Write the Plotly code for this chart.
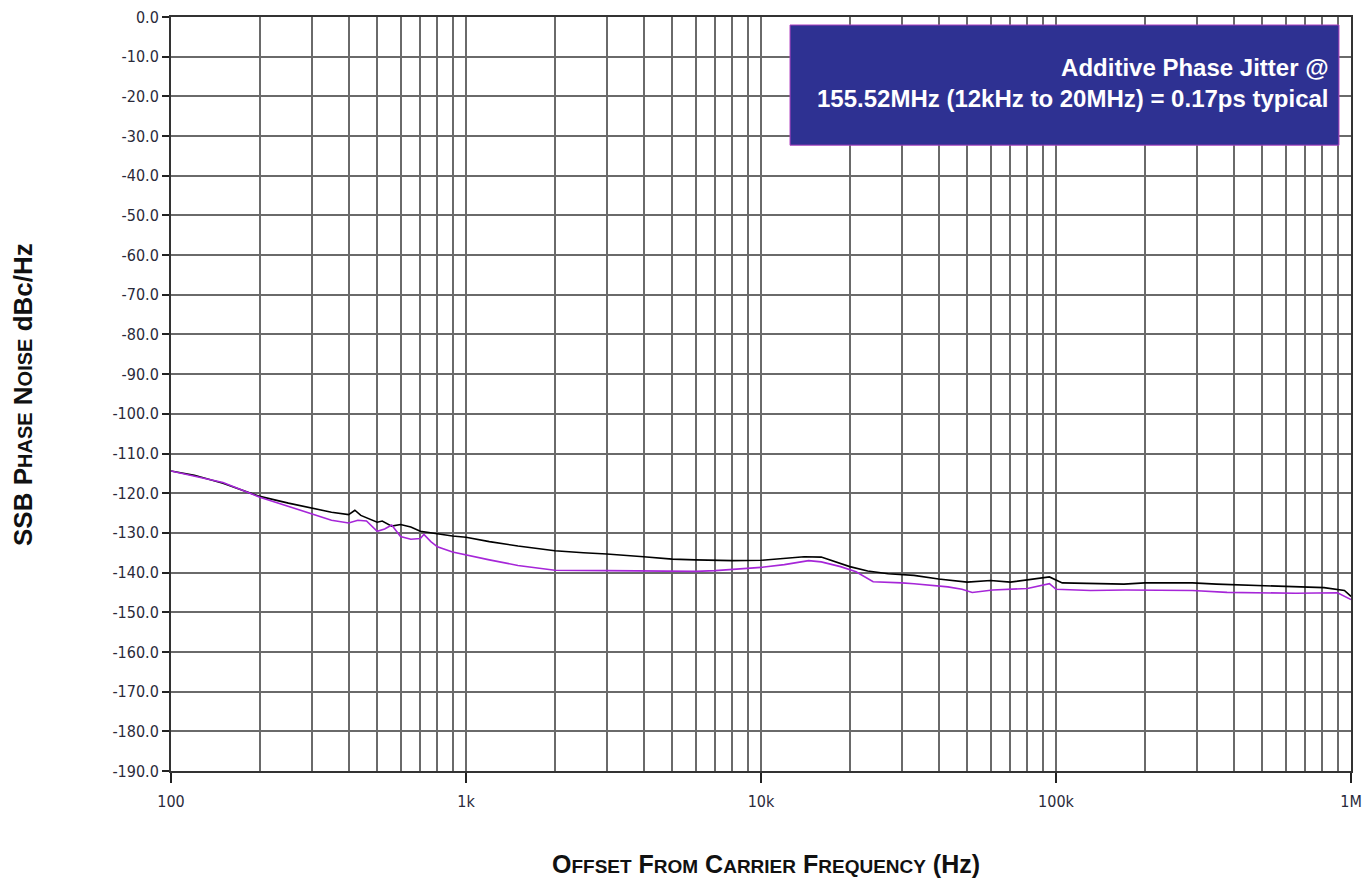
import plotly.graph_objects as go

# ---- data ----
freq_black = [100, 120, 150, 200, 250, 300, 350, 400, 420, 440, 500, 520, 560, 600, 650, 700, 800, 900,
              1000, 1200, 1500, 2000, 2500, 3000, 4000, 5000, 6000, 7000, 8000, 10000, 12000, 14000,
              16000, 18000, 20000, 23000, 27000, 33000, 40000, 50000, 60000, 70000, 80000, 95000,
              105000, 130000, 170000, 200000, 290000, 350000, 480000, 600000, 810000, 950000, 1000000]
noise_black = [-114.4, -115.5, -117.5, -120.8, -122.5, -123.7, -124.8, -125.4, -124.3, -125.6, -127.3,
               -127.0, -128.3, -127.9, -128.5, -129.6, -130.3, -130.8, -131.1, -132.2, -133.3, -134.5,
               -135.0, -135.3, -136.0, -136.6, -136.8, -137.0, -137.0, -136.9, -136.5, -136.0, -136.1,
               -137.3, -138.5, -139.6, -140.3, -140.7, -141.6, -142.4, -142.0, -142.4, -141.8, -141.1,
               -142.6, -142.8, -142.9, -142.6, -142.6, -142.9, -143.2, -143.4, -143.8, -144.5, -146.0]

freq_purple = [100, 150, 200, 250, 300, 350, 400, 430, 460, 500, 530, 560, 600, 650, 700, 720, 760, 800,
               900, 1000, 1200, 1500, 2000, 3000, 4000, 5000, 6000, 7000, 8000, 10000, 12000, 14500,
               16000, 18600, 21000, 24000, 30000, 33000, 43000, 48000, 52000, 61000, 80000, 90000,
               95000, 100000, 131000, 172000, 290000, 380000, 650000, 900000, 1000000]
noise_purple = [-114.4, -117.3, -121.0, -123.3, -125.2, -126.8, -127.5, -126.8, -127.0, -129.6, -129.0,
                -128.0, -130.9, -131.6, -131.4, -130.4, -132.2, -133.5, -134.8, -135.6, -136.8, -138.2,
                -139.4, -139.5, -139.6, -139.6, -139.7, -139.5, -139.2, -138.7, -138.0, -137.0, -137.3,
                -138.5, -139.8, -142.3, -142.6, -142.8, -143.6, -144.2, -145.0, -144.4, -144.0, -143.3,
                -142.8, -144.2, -144.5, -144.4, -144.5, -145.0, -145.2, -145.1, -146.8]

major_x = [100, 1000, 10000, 100000, 1000000]
major_x_text = ["100", "1k", "10k", "100k", "1M"]
minor_x = [m * d for d in [100, 1000, 10000, 100000] for m in range(2, 10)]

y_ticks = list(range(-190, 1, 10))
y_tick_text = ["%.1f" % v for v in y_ticks]

box_title = "Additive Phase Jitter @<br>155.52MHz (12kHz to 20MHz) = 0.17ps typical"

fig = go.Figure()
fig.add_trace(go.Scatter(x=freq_black, y=noise_black, mode="lines", line=dict(color="#000000", width=1.6),
                         showlegend=False))
fig.add_trace(go.Scatter(x=freq_purple, y=noise_purple, mode="lines", line=dict(color="#a626d8", width=1.6),
                         showlegend=False))

grid_col = "#6a6a6a"
tick_font = dict(family="DejaVu Sans Condensed, DejaVu Sans", size=16, color="#2a2a3a")
fig.update_layout(
    width=1360, height=870,
    margin=dict(l=163, r=17, t=9, b=107),
    paper_bgcolor="white", plot_bgcolor="white",
    font=dict(family="DejaVu Sans", size=14, color="#2a2a3a"),
    xaxis=dict(type="log", range=[2, 6], tickmode="array", tickvals=major_x, ticktext=major_x_text,
               automargin=False, ticklabeloverflow="allow",
               showgrid=True, gridcolor=grid_col, gridwidth=1.5,
               ticks="outside", ticklen=10, tickwidth=2, tickcolor="#222", ticklabelstandoff=5,
               tickfont=tick_font,
               minor=dict(tickmode="array", tickvals=minor_x, showgrid=True, gridcolor=grid_col, gridwidth=1.5, ticks=""),
               showline=True, linecolor="#333", linewidth=2, mirror=True, zeroline=False),
    yaxis=dict(range=[-190, 0], tickmode="array", tickvals=y_ticks, ticktext=y_tick_text,
               automargin=False, ticklabeloverflow="allow",
               showgrid=True, gridcolor=grid_col, gridwidth=1.5,
               ticks="outside", ticklen=7, tickwidth=2, tickcolor="#222",
               tickfont=tick_font,
               showline=True, linecolor="#333", linewidth=2, mirror=True, zeroline=False),
)

# jitter info box
fig.add_shape(type="rect", xref="paper", yref="paper", x0=0.5246, x1=0.9898, y0=0.830, y1=0.9894,
              fillcolor="#2e3192", line=dict(color="#b040c0", width=1), layer="above")
fig.add_annotation(xref="paper", yref="paper", x=0.9831, y=0.912, xanchor="right", yanchor="middle",
                   align="right", showarrow=False, text=box_title,
                   font=dict(family="Liberation Sans", size=24, color="white", weight="bold"))

# axis titles (small caps emulation)
sc = "font-size:19px"
sc_y = "font-size:20px"
ytitle = ("SSB P<span style='%s'>HASE</span> N<span style='%s'>OISE</span> dBc/Hz" % (sc_y, sc_y))
xtitle = ("O<span style='%s'>FFSET</span> F<span style='%s'>ROM</span> C<span style='%s'>ARRIER</span> "
          "F<span style='%s'>REQUENCY</span> (Hz)" % (sc, sc, sc, sc))
fig.add_annotation(xref="paper", yref="paper", x=(22 - 170) / 1180, y=(771 - 395) / 754, textangle=-90,
                   showarrow=False, text=ytitle, xanchor="center", yanchor="middle",
                   font=dict(family="Liberation Sans", size=26, color="#111", weight="bold"))
fig.add_annotation(xref="paper", yref="paper", x=(765 - 170) / 1180, y=(771 - 864) / 754,
                   showarrow=False, text=xtitle, xanchor="center", yanchor="middle",
                   font=dict(family="Liberation Sans", size=25, color="#111", weight="bold"))

fig.write_html("out.html")
